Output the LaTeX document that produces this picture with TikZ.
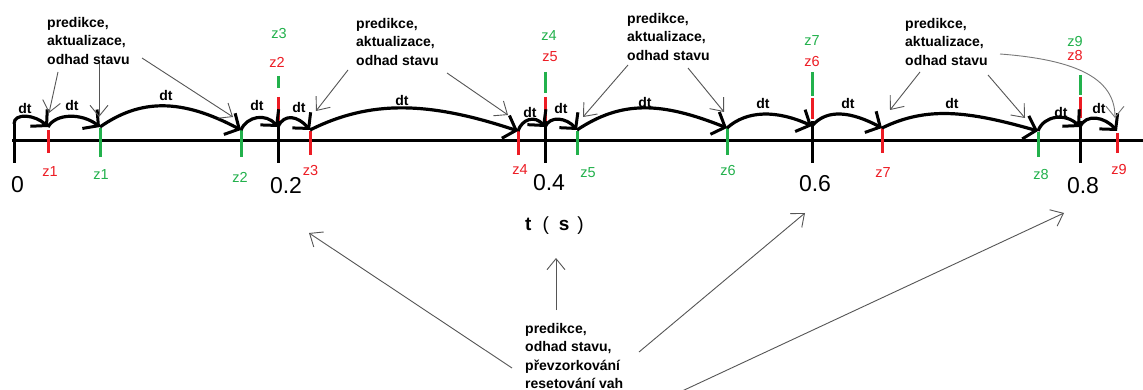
\documentclass[tikz,border=0pt]{standalone}
\usepackage{fontspec}
\setmainfont{Liberation Sans}
\usetikzlibrary{arrows.meta}
\definecolor{mred}{RGB}{237,28,36}
\definecolor{mgreen}{RGB}{34,177,76}
\definecolor{pencil}{RGB}{85,85,85}
\definecolor{pencillight}{RGB}{120,120,120}

\begin{document}
\begin{tikzpicture}[x=1pt,y=-1pt,
  axisline/.style={line width=3pt},
  majortick/.style={line width=3pt},
  redtick/.style={mred,line width=3pt},
  greentick/.style={mgreen,line width=3pt},
  hop/.style={line width=3.2pt,-{Straight Barb[length=11pt,width=24pt,line width=3pt]}},
  pointer/.style={pencil,line width=0.9pt,-{Straight Barb[length=11pt,width=18pt,line width=0.9pt]}},
  note/.style={font=\fontsize{14}{18.5}\selectfont\bfseries,align=left,inner sep=0pt,anchor=north west},
  dtlabel/.style={font=\fontsize{14}{16}\selectfont\bfseries,inner sep=0pt},
  zred/.style={mred,font=\fontsize{14.5}{16}\selectfont,inner sep=0pt},
  zgreen/.style={mgreen,font=\fontsize{14.5}{16}\selectfont,inner sep=0pt},
  timelabel/.style={font=\fontsize{23}{26}\selectfont,inner sep=0pt},
]
\useasboundingbox[fill=white] (0,0) rectangle (1143,390);

% time axis
\draw[axisline] (12,141) -- (1143,141);

% major ticks
\draw[majortick] (14,124) -- (14,163);
\foreach \x in {278,545,812,1080} \draw[majortick] (\x,121) -- (\x,163);

% measurement markers above the major ticks
\draw[greentick] (278,76) -- (278,88);  \draw[redtick] (278,97) -- (278,121);
\draw[greentick] (545,72) -- (545,93);  \draw[redtick] (545,97) -- (545,121);
\draw[greentick] (812,72) -- (812,96);  \draw[redtick] (812,98) -- (812,119);
\draw[greentick] (1080,75) -- (1080,95); \draw[redtick] (1080,97) -- (1080,118);

% measurement markers below the steps
\draw[redtick] (48,130) -- (48,153);
\draw[greentick] (100,128) -- (100,157);
\draw[greentick] (241,130) -- (241,157);
\draw[redtick] (310,131) -- (310,155);
\draw[redtick] (518,131) -- (518,155);
\draw[greentick] (577,131) -- (577,155);
\draw[greentick] (727,128) -- (727,155);
\draw[redtick] (882,128) -- (882,153);
\draw[greentick] (1038,132) -- (1038,157);
\draw[redtick] (1117,133) -- (1117,153);

% axis labels
\node[timelabel] (t0) at (17.5,185) {0};
\node[timelabel] (t2) at (286,186) {0.2};
\node[timelabel] (t4) at (549,183) {0.4};
\node[timelabel] (t6) at (815,184) {0.6};
\node[timelabel] (t8) at (1083,186) {0.8};
\node[font=\fontsize{19}{22}\selectfont\bfseries,inner sep=0pt,anchor=base west] (tunit) at (525,230)
  {t\hspace{11pt}{\mdseries(}\hspace{10pt}s\hspace{8pt}{\mdseries)}};

% marker labels
\node[zred]   (lr1) at (50,172) {z1};
\node[zgreen] (lg1) at (101,175) {z1};
\node[zgreen] (lg2) at (240,177) {z2};
\node[zred]   (lr3) at (310.5,171) {z3};
\node[zred]   (lr4) at (520,170) {z4};
\node[zgreen] (lg5) at (588,173) {z5};
\node[zgreen] (lg6) at (728,171) {z6};
\node[zred]   (lr7) at (883,173) {z7};
\node[zgreen] (lg8) at (1041,175) {z8};
\node[zred]   (lr9) at (1119,170) {z9};
\node[zgreen] (ug3) at (279,34) {z3};
\node[zred]   (ur2) at (277,62) {z2};
\node[zgreen] (ug4) at (549,36) {z4};
\node[zred]   (ur5) at (550,57) {z5};
\node[zgreen] (ug7) at (812,41) {z7};
\node[zred]   (ur6) at (812,62) {z6};
\node[zgreen] (ug9) at (1075,42) {z9};
\node[zred]   (ur8) at (1075,56) {z8};

% step points
\coordinate (h0) at (14,124);
\coordinate (h1) at (48,127);
\coordinate (h2) at (100,127);
\coordinate (h3) at (241,130);
\coordinate (h4) at (278,127);
\coordinate (h5) at (310,130);
\coordinate (h6) at (518,131);
\coordinate (h7) at (545,127);
\coordinate (h8) at (577,130);
\coordinate (h9) at (727,128);
\coordinate (h10) at (812,126);
\coordinate (h11) at (882,128);
\coordinate (h12) at (1038,131);
\coordinate (h13) at (1080,127);
\coordinate (h14) at (1117,131);

% dt steps
\draw[hop] (h0) .. controls +(0,-12) and +(-12,-12) .. (h1);
\draw[hop] (h1) .. controls +(8,-14) and +(-18,-14) .. (h2);
\draw[hop] (h2) .. controls +(40,-28) and +(-60,-32) .. (h3);
\draw[hop] (h3) .. controls +(6,-14) and +(-12,-14) .. (h4);
\draw[hop] (h4) .. controls +(6,-14) and +(-12,-14) .. (h5);
\draw[hop] (h5) .. controls +(60,-30) and +(-90,-30) .. (h6);
\draw[hop] (h6) .. controls +(4,-12) and +(-10,-12) .. (h7);
\draw[hop] (h7) .. controls +(5,-12) and +(-10,-12) .. (h8);
\draw[hop] (h8) .. controls +(45,-30) and +(-65,-26) .. (h9);
\draw[hop] (h9) .. controls +(20,-18) and +(-35,-16) .. (h10);
\draw[hop] (h10) .. controls +(15,-18) and +(-30,-16) .. (h11);
\draw[hop] (h11) .. controls +(45,-22) and +(-70,-20) .. (h12);
\draw[hop] (h12) .. controls +(6,-16) and +(-14,-14) .. (h13);
\draw[hop] (h13) .. controls +(6,-14) and +(-12,-14) .. (h14);

% dt labels
\node[dtlabel] (d1) at (25,108) {dt};
\node[dtlabel] (d2) at (72,105) {dt};
\node[dtlabel] (d3) at (166,95) {dt};
\node[dtlabel] (d4) at (257,105) {dt};
\node[dtlabel] (d5) at (299,107) {dt};
\node[dtlabel] (d6) at (402,100) {dt};
\node[dtlabel] (d7) at (530,112) {dt};
\node[dtlabel] (d8) at (561,108) {dt};
\node[dtlabel] (d9) at (645,102) {dt};
\node[dtlabel] (d10) at (763,103) {dt};
\node[dtlabel] (d11) at (848,103) {dt};
\node[dtlabel] (d12) at (952,103) {dt};
\node[dtlabel] (d13) at (1061,112) {dt};
\node[dtlabel] (d14) at (1099,108) {dt};

% filter step notes
\node[note] (n1) at (47,16.7) {predikce,\\aktualizace,\\odhad stavu};
\node[note] (n2) at (356,17.7) {predikce,\\aktualizace,\\odhad stavu};
\node[note] (n3) at (627,12.7) {predikce,\\aktualizace,\\odhad stavu};
\node[note] (n4) at (905,17.7) {predikce,\\aktualizace,\\odhad stavu};
\node[note] (n5) at (525,322.7) {predikce,\\odhad stavu,\\převzorkování\\resetování vah};

% pointer ends
\coordinate (p1a) at (58,72);   \coordinate (q1a) at (49,113);
\coordinate (p1b) at (99,63);   \coordinate (q1b) at (99,117);
\coordinate (p1c) at (142,58);  \coordinate (q1c) at (233,117);
\coordinate (p2a) at (348,70);  \coordinate (q2a) at (316,111);
\coordinate (p2b) at (447,73);  \coordinate (q2b) at (508,115);
\coordinate (p3a) at (628,65);  \coordinate (q3a) at (583,117);
\coordinate (p3b) at (688,68);  \coordinate (q3b) at (724,112);
\coordinate (p4a) at (920,72);  \coordinate (q4a) at (890,110);
\coordinate (p4b) at (988,75);  \coordinate (q4b) at (1025,118);
\coordinate (p4c) at (1000,54); \coordinate (q4c) at (1115,118);
\coordinate (p5a) at (512,368); \coordinate (q5a) at (309,233);
\coordinate (p5b) at (556,310); \coordinate (q5b) at (556,258);
\coordinate (p5c) at (639,352); \coordinate (q5c) at (805,213);
\coordinate (p5d) at (680,392); \coordinate (q5d) at (1064,213);

% pointers from the notes
\draw[pointer] (p1a) -- (q1a);
\draw[pointer] (p1b) -- (q1b);
\draw[pointer] (p1c) -- (q1c);
\draw[pointer] (p2a) -- (q2a);
\draw[pointer] (p2b) -- (q2b);
\draw[pointer] (p3a) -- (q3a);
\draw[pointer] (p3b) -- (q3b);
\draw[pointer] (p4a) -- (q4a);
\draw[pointer] (p4b) -- (q4b);
\draw[pointer,pencillight] (p4c) .. controls (1080,60) and (1115,80) .. (q4c);
\draw[pointer] (p5a) -- (q5a);
\draw[pointer] (p5b) -- (q5b);
\draw[pointer] (p5c) -- (q5c);
\draw[pointer] (p5d) -- (q5d);
\end{tikzpicture}
\end{document}
